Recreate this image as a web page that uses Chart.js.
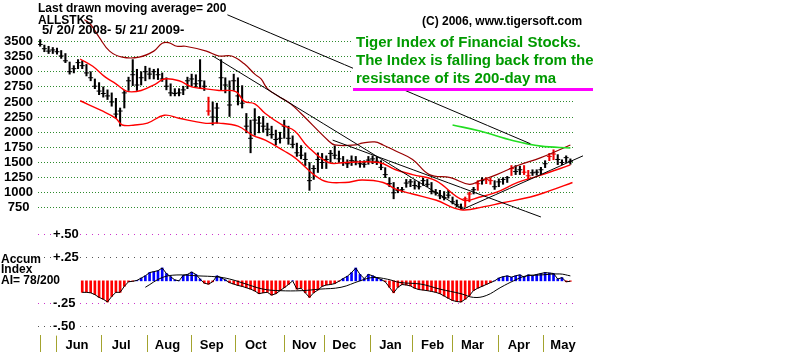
<!DOCTYPE html>
<html>
<head>
<meta charset="utf-8">
<script src="https://cdn.jsdelivr.net/npm/chart.js@4.4.1/dist/chart.umd.min.js"></script>
<style>
  html, body { margin: 0; padding: 0; background: #fff; }
</style>
</head>
<body>
<canvas id="myChart" width="800" height="352"></canvas>
<script>
// ALLSTKS 5/20/2008 - 5/21/2009, one bar every 2 trading days (x = trading day index)
const step = 2

const hi = [3530,3440,3420,3400,3390,3350,3300,3160,3100,3200,
	3180,3120,3000,2880,2820,2750,2700,2650,2560,2400,
	2690,2910,3200,3040,3000,3090,3060,3040,3050,2980,
	2900,2800,2720,2720,2760,2910,2960,2950,3200,2850,
	2580,2500,2480,3200,2900,2850,2960,2900,2770,2310,
	2200,2390,2260,2260,2150,2100,2035,2000,2200,2100,
	1940,1820,1780,1660,1500,1450,1660,1650,1610,1700,
	1775,1690,1600,1545,1610,1600,1530,1530,1600,1610,
	1590,1530,1415,1250,1170,1090,1090,1220,1220,1200,
	1180,1240,1220,1170,1055,1040,1020,1040,930,880,
	815,930,1010,1090,1200,1250,1250,1240,1200,1230,
	1250,1270,1450,1450,1440,1450,1370,1380,1380,1420,
	1530,1650,1710,1630,1545,1610,1560]
const lo = [3420,3330,3300,3300,3290,3220,3150,2960,2980,3050,
	3050,2930,2850,2720,2620,2580,2540,2430,2230,2100,
	2400,2690,2770,2690,2780,2850,2880,2880,2870,2840,
	2700,2600,2600,2600,2620,2720,2760,2750,2720,2690,
	2280,2120,2150,2690,2650,2260,2690,2450,2400,1990,
	1660,1950,1990,2000,1940,1900,1790,1820,1900,1800,
	1740,1600,1560,1450,1040,1220,1335,1400,1400,1500,
	1560,1500,1450,1415,1450,1460,1420,1420,1470,1480,
	1465,1380,1250,1100,900,1000,1010,1090,1100,1060,
	1060,1120,1100,980,960,900,880,910,815,765,
	720,765,850,980,1040,1140,1150,1140,1055,1100,
	1140,1170,1285,1300,1300,1300,1220,1285,1290,1300,
	1415,1530,1545,1465,1465,1500,1470]
const cl = [3450,3380,3340,3360,3330,3260,3180,3000,3050,3150,
	3100,2980,2900,2760,2680,2640,2600,2500,2300,2350,
	2650,2850,2950,2780,2900,3000,2960,3000,2950,2880,
	2760,2650,2640,2650,2700,2850,2880,2800,2850,2760,
	2350,2250,2400,2900,2780,2450,2850,2600,2480,2100,
	1900,2200,2150,2100,2050,1960,1880,1900,2100,1900,
	1800,1660,1620,1550,1200,1400,1550,1500,1550,1650,
	1620,1560,1500,1480,1530,1520,1480,1470,1540,1560,
	1520,1420,1300,1150,1000,1040,1050,1160,1180,1120,
	1100,1200,1140,1020,1000,950,920,960,850,800,
	760,900,980,1050,1150,1200,1220,1200,1100,1180,
	1220,1250,1400,1350,1380,1340,1280,1330,1340,1380,
	1480,1600,1640,1550,1500,1580,1520]
// bars flagged red by the program (bar numbers)
const redBars = [40, 101, 102, 104, 106, 107, 112, 115, 116, 121, 122]

// Accumulation Index, same bars (starts after the first 20 days)
const ai = [null,null,null,null,null,null,null,null,null,null,
	-0.125,-0.125,-0.13,-0.15,-0.18,-0.2,-0.23,-0.17,-0.125,-0.125,
	-0.06,-0.01,-0.005,0.005,0.03,0.055,0.09,0.1,0.11,0.14,
	0.08,0.045,0.01,0.0,0.06,0.07,0.095,0.07,0.02,-0.025,
	-0.036,-0.01,0.054,0.035,0.01,-0.02,-0.035,-0.05,-0.06,-0.075,
	-0.09,-0.11,-0.14,-0.13,-0.125,-0.155,-0.14,-0.107,-0.075,-0.04,
	0.0,-0.09,-0.08,-0.13,-0.18,-0.13,-0.1,-0.06,-0.045,-0.04,
	-0.03,-0.005,0.025,0.05,0.09,0.14,0.07,0.025,0.07,0.055,
	0.035,0.015,-0.01,-0.07,-0.13,-0.07,-0.04,-0.045,-0.055,-0.08,
	-0.095,-0.1,-0.107,-0.115,-0.125,-0.14,-0.165,-0.19,-0.214,-0.225,
	-0.23,-0.2,-0.16,-0.105,-0.08,-0.06,-0.04,-0.02,0.0,0.03,
	0.045,0.054,0.04,0.055,0.065,0.04,0.065,0.055,0.07,0.08,
	0.09,0.085,0.08,0.02,0.035,-0.01,-0.005]

// lines as [day, value]
const upperBand = [[21,3860],[24,3780],[28,3570],[33,3340],[39,3240],[47,3240],[54,3340],[58,3470],[61,3480],[65,3420],
	[69,3420],[79,3340],[85,3260],[91,3260],[97,3130],[102,2960],[105,2880],[108,2720],[113,2600],[119,2470],
	[124,2310],[137,1860],[140,1790],[150,1790],[153,1820],[159,1840],[163,1790],[169,1690],[177,1550],[185,1300],
	[195,1250],[204,1140],[209,1200],[217,1300],[227,1450],[238,1580],[252,1790]]
const midBand = [[19,3210],[25,3090],[31,2910],[36,2800],[39,2720],[42,2670],[48,2690],[55,2800],[59,2880],[66,2850],
	[72,2750],[78,2720],[85,2690],[93,2670],[97,2510],[102,2470],[107,2310],[115,2120],[121,2020],[127,1770],
	[137,1500],[145,1500],[161,1500],[169,1380],[177,1300],[188,1200],[201,880],[209,930],[217,1010],[227,1170],
	[238,1290],[252,1460]]
const lowerBand = [[19,2520],[29,2360],[36,2230],[39,2120],[45,2120],[51,2150],[59,2280],[66,2230],[78,2150],[85,2150],
	[94,2100],[101,1950],[107,1870],[116,1690],[121,1580],[134,1210],[145,1170],[153,1210],[163,1170],[169,1060],
	[177,980],[188,880],[200,720],[211,770],[219,830],[233,930],[242,1030],[253,1170]]
const ma200 = [[196,2120],[209,2020],[225,1860],[238,1770],[252,1740]]
const trendA = [[89,3940],[233,1810]]
const trendB = [[82,3260],[201,730]]
const trendC = [[139,1870],[238,600]]
const upTrend = [[201,730],[258,1610]]
const aiMA = [[50,-0.07],[58,0.036],[65,0.064],[75,0.054],[84,0.043],[90,0.02],[98,-0.036],[106,-0.09],[114,-0.107],[124,-0.107],
	[133,-0.09],[143,-0.07],[152,0],[158,0.036],[165,0.018],[171,-0.018],[181,-0.036],[190,-0.09],[200,-0.14],[206,-0.18],
	[212,-0.16],[219,-0.07],[225,0],[231,0.054],[238,0.064],[247,0.075],[252,0.054]]

const monthNames = ['', 'Jun', 'Jul', 'Aug', 'Sep', 'Oct', 'Nov', 'Dec', 'Jan', 'Feb', 'Mar', 'Apr', 'May']
const monthStart = [0, 8, 29, 51, 72, 93, 116, 135, 157, 177, 196, 218, 239]
const priceTicks = [750, 1000, 1250, 1500, 1750, 2000, 2250, 2500, 2750, 3000, 3250, 3500]
const aiTicks = [-0.5, -0.25, 0.25, 0.5]
const comment = ['Tiger Index of Financial Stocks.', 'The Index is falling back from the', 'resistance of its 200-day ma']

const FONT = "'Liberation Sans', Arial, sans-serif"
const bold = size => ({ family: FONT, size: size, weight: 'bold' })

const pts = arr => arr.map(([d, v]) => ({ x: d, y: v }))
const bars = hi.map((h, k) => ({ x: k * step, y: [lo[k], h] }))
const closes = cl.map((c, k) => ({ x: k * step, y: c }))
const barColors = hi.map((h, k) => redBars.includes(k) ? '#ee0000' : '#000000')
const aiPts = ai.map((v, k) => ({ x: k * step, y: v })).filter(p => p.y !== null)

const line = (data, color, width, axis, order, extra) => Object.assign({
	type: 'line', data: pts(data), borderColor: color, borderWidth: width,
	pointRadius: 0, tension: 0.4, yAxisID: axis, order: order
}, extra || {})

// no extra room for labels: the plot area has to be the full canvas
const noPad = s => { s.paddingTop = 0; s.paddingBottom = 0; s.paddingLeft = 0; s.paddingRight = 0 }

// text, white box behind the comment and magenta underline
const tigerText = {
	id: 'tigerText',
	afterDatasetsDraw(chart) {
		const ctx = chart.ctx
		ctx.save()
		ctx.fillStyle = '#fff'
		ctx.fillRect(353, 29, 250, 59)
		ctx.fillStyle = '#009a00'
		ctx.font = 'bold 15px ' + FONT
		comment.forEach((t, i) => ctx.fillText(t, 356, 47 + i * 18))
		ctx.fillStyle = '#ff00ff'
		ctx.fillRect(353, 88, 240, 3)

		ctx.fillStyle = '#000'
		ctx.font = 'bold 12px ' + FONT
		ctx.fillText('Last drawn moving average= 200', 38, 12)
		ctx.fillText('ALLSTKS', 38, 24)
		ctx.fillText('(C) 2006, www.tigersoft.com', 422, 25)
		ctx.fillText('Accum', 1, 263)
		ctx.fillText('Index', 1, 273)
		ctx.fillText('AI= 78/200', 1, 284)
		ctx.font = 'bold 13px ' + FONT
		ctx.fillText('5/ 20/ 2008- 5/ 21/ 2009-', 42, 34)
		ctx.restore()
	}
}

const myChart = new Chart(document.getElementById('myChart'), {
	type: 'bar',
	data: {
		datasets: [
			line(trendA, '#000', 1, 'y', 1),
			line(trendB, '#000', 1, 'y', 1),
			line(trendC, '#000', 1, 'y', 1),
			line(upTrend, '#000', 1, 'y', 1, { clip: false }),
			line(ma200, '#22dd22', 1.6, 'y', 1),
			line(upperBand, '#990000', 1.2, 'y', 2),
			line(midBand, '#ff0000', 1.4, 'y', 2),
			line(lowerBand, '#ff0000', 1.4, 'y', 2),
			{
				type: 'scatter', data: closes, pointStyle: 'line', pointRadius: 2.5,
				pointBorderWidth: 1, pointBorderColor: barColors, yAxisID: 'y', order: 4
			},
			{
				type: 'bar', data: bars, backgroundColor: barColors, barThickness: 1.4,
				grouped: false, yAxisID: 'y', order: 5
			},
			line(aiMA, '#000', 1, 'y2', 1),
			line(aiPts.map(p => [p.x, p.y]), '#000', 1, 'y2', 3, { tension: 0 }),
			{
				type: 'bar', data: aiPts, barThickness: 2, grouped: false, yAxisID: 'y2', order: 6,
				backgroundColor: aiPts.map(p => p.y < 0 ? '#ff0000' : '#0000ff')
			}
		]
	},
	options: {
		responsive: false,
		devicePixelRatio: 1,
		animation: false,
		events: [],
		layout: { padding: { left: 0, right: 225, top: 0, bottom: 0 } },
		plugins: { legend: { display: false }, tooltip: { enabled: false } },
		scales: {
			x: {
				type: 'linear', min: -1.03, max: 254.2, offset: false,
				afterBuildTicks: s => { s.ticks = monthStart.map(v => ({ value: v })) },
				afterFit: s => { s.height = 17; noPad(s) },
				grid: { drawOnChartArea: false, drawTicks: true, tickLength: 17, tickColor: '#a3a32e', offset: false },
				border: { display: false },
				ticks: {
					autoSkip: false, maxRotation: 0, padding: -14, labelOffset: 20,
					color: '#000', font: bold(13), callback: (v, i) => monthNames[i]
				}
			},
			y: {
				position: 'left', weight: 1, min: -1350, max: 4102,
				afterBuildTicks: s => { s.ticks = priceTicks.map(v => ({ value: v })) },
				afterFit: s => { s.width = 38; noPad(s) },
				grid: { color: '#2e8b2e', drawTicks: false },
				border: { display: false, dash: [1, 2] },
				ticks: { crossAlign: 'center', padding: 5, color: '#000', font: bold(13), callback: v => String(v) }
			},
			y2: {
				position: 'left', weight: 0, min: -0.589, max: 3.0,
				afterBuildTicks: s => { s.ticks = aiTicks.map(v => ({ value: v })) },
				afterFit: s => { s.width = 0; noPad(s) },
				grid: {
					drawTicks: false,
					color: c => (c.tick && (c.tick.value === 0.5 || c.tick.value === -0.25)) ? '#cc33cc' : '#555555'
				},
				border: { display: false, dash: [1, 5] },
				ticks: {
					mirror: true, padding: 15, color: '#000', font: bold(13),
					showLabelBackdrop: true, backdropColor: '#fff', backdropPadding: 1,
					callback: v => (v > 0 ? '+' : '-') + Math.abs(v).toFixed(2).slice(1)
				}
			}
		}
	},
	plugins: [tigerText]
})
</script>
</body>
</html>
